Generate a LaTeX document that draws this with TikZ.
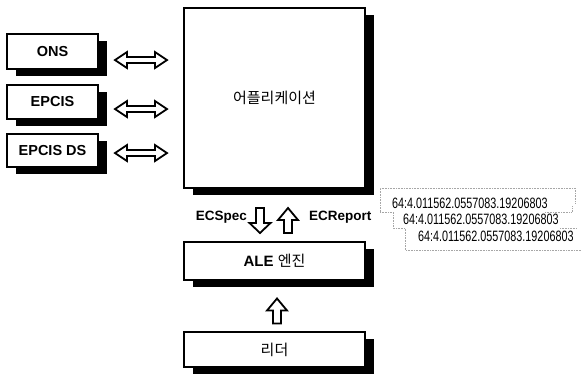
\documentclass[tikz,border=0pt]{standalone}
\usepackage{fontspec}
\setmainfont{Liberation Sans}
\newfontfamily\kr{Noto Sans CJK KR}
\newfontfamily\idfont{Liberation Sans}
\usetikzlibrary{shadows,calc}
\begin{document}
\begin{tikzpicture}[x=1pt,y=-1pt,
  box/.style={draw=black,line width=1.8pt,fill=white,rectangle,inner sep=0pt,
    drop shadow={shadow xshift=9pt,shadow yshift=-7pt,fill=black,opacity=1}},
  lbl/.style={font=\fontsize{14.5}{16}\selectfont\bfseries},
  arrowline/.style={draw=black,line width=1.8pt,fill=white,line join=miter},
  card/.style={draw=gray!70,line width=0.6pt,densely dotted},
  idtext/.style={font=\fontsize{15}{17}\selectfont\idfont,anchor=west,inner sep=0pt},
  dblarrow/.pic={\path[arrowline] (-26,0) -- (-14,-8) -- (-14,-3) -- (14,-3) -- (14,-8) -- (26,0) -- (14,8) -- (14,3) -- (-14,3) -- (-14,8) -- cycle;},
  downarrow/.pic={\path[arrowline] (-4,-12.5) -- (4,-12.5) -- (4,2.5) -- (10.5,2.5) -- (0,12.5) -- (-10.5,2.5) -- (-4,2.5) -- cycle;},
  uparrow/.pic={\path[arrowline] (-4,12.5) -- (4,12.5) -- (4,-0.5) -- (10,-0.5) -- (0,-12.5) -- (-10,-0.5) -- (-4,-0.5) -- cycle;}
]
\useasboundingbox (0,0) rectangle (582,376);

% left boxes
\node[box,lbl,minimum width=91pt,minimum height=35pt] (ons) at (52.5,51.5) {ONS};
\node[box,lbl,minimum width=91pt,minimum height=34pt] (epcis) at (52.5,102) {EPCIS};
\node[box,lbl,minimum width=91pt,minimum height=33pt] (epcisds) at (52.5,150.5) {EPCIS DS};

% application box
\node[box,minimum width=181pt,minimum height=180pt,font=\fontsize{15}{17}\selectfont\kr] (app) at (274.5,98) {어플리케이션};

% ALE engine and reader
\node[box,minimum width=181pt,minimum height=38pt] (ale) at (274.5,261)
  {\fontsize{15}{17}\selectfont{\bfseries ALE} {\kr 엔진}};
\node[box,minimum width=181pt,minimum height=35pt,font=\fontsize{15}{17}\selectfont\kr] (reader) at (274.5,349.5) {리더};

% double arrows
\pic at (141,60) {dblarrow};
\pic at (141,109) {dblarrow};
\pic at (141,153) {dblarrow};

% ECSpec / ECReport arrows
\pic at (260,220.5) {downarrow};
\pic at (288,220.5) {uparrow};
\node[font=\fontsize{13.5}{15}\selectfont\bfseries,anchor=east,inner sep=0pt] (ecspec) at (247,217) {ECSpec};
\node[font=\fontsize{13.5}{15}\selectfont\bfseries,anchor=west,inner sep=0pt] (ecreport) at (309,217) {ECReport};

% reader to ALE arrow
\pic at (277,311) {uparrow};

% EPC cards
\draw[card] (380,212) -- (380,188) -- (575,188) -- (575,204);
\draw[card] (380,212) -- (393,212) -- (393,228) -- (405,228) -- (405,250) -- (582,250);
\draw[card] (545,212) -- (572,212) -- (572,206);
\draw[card] (560,228) -- (577,228);
\node[idtext] (id1) at (392,203) {\scalebox{0.72}[1]{64:4.011562.0557083.19206803}};
\node[idtext] (id2) at (403,219) {\scalebox{0.72}[1]{64:4.011562.0557083.19206803}};
\node[idtext] (id3) at (418,236) {\scalebox{0.72}[1]{64:4.011562.0557083.19206803}};
\end{tikzpicture}
\end{document}
